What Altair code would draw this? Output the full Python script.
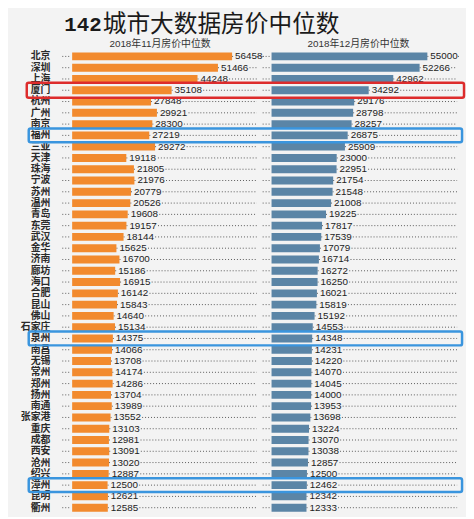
import altair as alt
import pandas as pd

# ---- data ----
cities = ["北京", "深圳", "上海", "厦门", "杭州", "广州", "南京", "福州", "三亚", "天津",
          "珠海", "宁波", "苏州", "温州", "青岛", "东莞", "武汉", "金华", "济南", "廊坊",
          "海口", "合肥", "昆山", "佛山", "石家庄", "泉州", "南昌", "无锡", "常州", "郑州",
          "扬州", "南通", "张家港", "重庆", "成都", "西安", "沧州", "绍兴", "漳州", "昆明", "衢州"]
nov_2018 = [56458, 51466, 44248, 35108, 27848, 29921, 28300, 27219, 29272, 19118,
            21805, 21976, 20779, 20526, 19608, 19157, 18144, 15625, 16700, 15186,
            16915, 16142, 15843, 14640, 15134, 14375, 14066, 13708, 14174, 14286,
            13704, 13989, 13552, 13103, 12981, 13091, 13020, 12887, 12500, 12621, 12585]
dec_2018 = [55000, 52266, 42962, 34292, 29176, 28798, 28257, 26875, 25909, 23000,
            22951, 21754, 21548, 21008, 19225, 17817, 17539, 17079, 16714, 16272,
            16250, 16021, 15819, 15192, 14553, 14348, 14231, 14220, 14070, 14045,
            14000, 13953, 13698, 13224, 13070, 13038, 12857, 12500, 12462, 12342, 12333]
red_cities = ["厦门"]
blue_cities = ["福州", "泉州", "漳州"]
title_num = "142"
title_txt = "城市大数据房价中位数"
sub_left = "2018年11月房价中位数"
sub_right = "2018年12月房价中位数"

# ---- layout constants ----
PX = 0.00287           # pixels per price unit
U = 1 / PX             # price units per pixel
W = 396
STEP = 11.43
H = STEP * len(cities)
R0 = 202 * U           # start of the right-hand bars
ORANGE = "#F28A2E"
BLUE = "#5B85A6"
DOT = "#5a5a5a"
CJK = "Liberation Sans, Noto Sans CJK SC"

df = pd.DataFrame({"city": cities, "v11": nov_2018, "v12": dec_2018})
df["hl"] = ["red" if c in red_cities else ("blue" if c in blue_cities else "") for c in cities]

base = alt.Chart(df).transform_calculate(
    rs=f"{R0}",
    re=f"datum.v12 + {R0}",
    ld0=f"datum.v11 + {32 * U}",
    ld1=f"{187 * U}",
    lp0="datum.v11",
    lp1=f"datum.v11 + {2.2 * U}",
    rd0=f"datum.v12 + {R0 + 32 * U}",
    rd1=f"{390 * U}",
    rp0=f"datum.v12 + {R0}",
    rp1=f"datum.v12 + {R0 + 2.2 * U}",
    bx0=f"{-46 * U}",
    bx1=f"{397 * U}",
    cx0=f"{-44 * U}",
    cx1=f"{395 * U}",
)

xs = alt.Scale(domain=[0, W * U], nice=False, zero=False)
ys = alt.Scale(paddingInner=0.3, paddingOuter=0.15)
Y = alt.Y("city:N", sort=cities, axis=None, scale=ys)

def dotted(x0, x1):
    return base.mark_rule(color=DOT, strokeDash=[1, 2], strokeWidth=1).encode(
        x=alt.X(f"{x0}:Q", scale=xs, axis=None), x2=f"{x1}:Q", y=Y)

bars_l = base.mark_bar(color=ORANGE).encode(
    x=alt.X("v11:Q", scale=xs, axis=None), y=Y)
bars_r = base.mark_bar(color=BLUE).encode(
    x=alt.X("rs:Q", scale=xs, axis=None), x2="re:Q", y=Y)

lab_l = base.mark_text(align="left", baseline="middle", dx=3, fontSize=10,
                       font="Liberation Sans", color="#222").encode(
    x=alt.X("v11:Q", scale=xs, axis=None), y=Y, text="v11:Q")
lab_r = base.mark_text(align="left", baseline="middle", dx=3, fontSize=10,
                       font="Liberation Sans", color="#222").encode(
    x=alt.X("re:Q", scale=xs, axis=None), y=Y, text="v12:Q")

lead_l = base.mark_rule(color=DOT, strokeDash=[1, 2]).encode(
    x=alt.value(-10), x2=alt.value(-2), y=Y)
lead_r = base.mark_rule(color=DOT, strokeDash=[1, 2]).encode(
    x=alt.value(193), x2=alt.value(200), y=Y)

city_lab = base.mark_text(align="right", baseline="middle", fontSize=10,
                          font=CJK, fontWeight="bold", color="#2a2a2a").encode(
    x=alt.value(-22), y=Y, text="city:N")

box_red = base.transform_filter("datum.hl == 'red'").mark_bar(
    height=15, filled=False, stroke="#DD2C2C", strokeWidth=2.5, cornerRadius=2).encode(
    x=alt.X("bx0:Q", scale=xs, axis=None), x2="bx1:Q", y=Y)
box_blue = base.transform_filter("datum.hl == 'blue'").mark_bar(
    height=14, filled=False, stroke="#3A95DE", strokeWidth=2.5, cornerRadius=2).encode(
    x=alt.X("cx0:Q", scale=xs, axis=None), x2="cx1:Q", y=Y)

one = pd.DataFrame({"a": [0]})
t_num = alt.Chart(one).mark_text(align="left", baseline="middle", fontSize=21,
                                 font="Liberation Mono", fontWeight="bold", color="#1a1a1a").encode(
    x=alt.value(-8), y=alt.value(-26), text=alt.value(title_num))
t_txt = alt.Chart(one).mark_text(align="left", baseline="middle", fontSize=24,
                                 font=CJK, color="#1a1a1a").encode(
    x=alt.value(31), y=alt.value(-26), text=alt.value(title_txt))
s_l = alt.Chart(one).mark_text(align="center", baseline="middle", fontSize=10,
                               font=CJK, color="#333").encode(
    x=alt.value(89), y=alt.value(-7), text=alt.value(sub_left))
s_r = alt.Chart(one).mark_text(align="center", baseline="middle", fontSize=10,
                               font=CJK, color="#333").encode(
    x=alt.value(290), y=alt.value(-7), text=alt.value(sub_right))

chart = alt.layer(
    dotted("ld0", "ld1"), dotted("lp0", "lp1"), dotted("rd0", "rd1"), dotted("rp0", "rp1"),
    lead_l, lead_r, bars_l, bars_r, lab_l, lab_r, city_lab, box_red, box_blue,
    t_num, t_txt, s_l, s_r,
).properties(
    width=W, height=H,
    autosize=alt.AutoSizeParams(type="none"),
    padding={"left": 65, "top": 40, "right": 3, "bottom": 0},
    background="#f3f3f3",
).configure_view(stroke=None)

chart.save("out.html", embed_options={"renderer": "svg", "actions": False})
